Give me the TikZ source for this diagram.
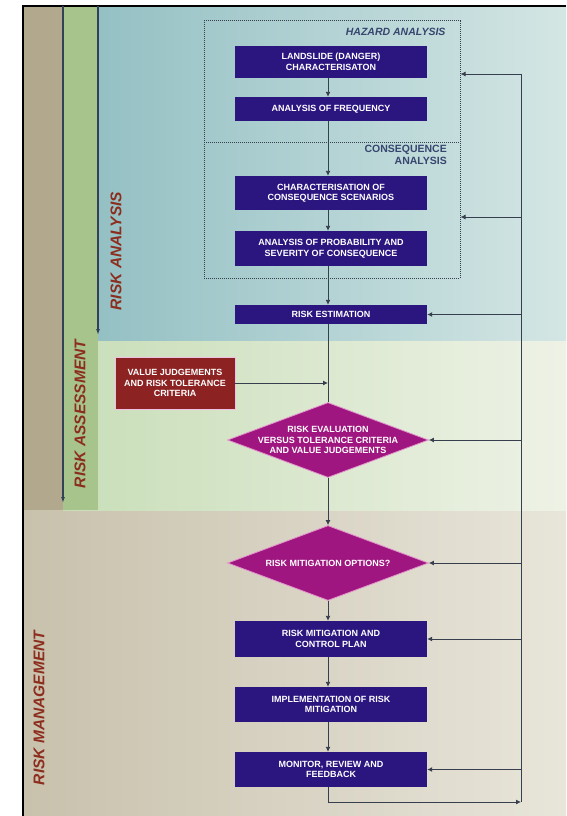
\documentclass[tikz,border=0pt]{standalone}
\usepackage{fontspec}
\setmainfont{Liberation Sans}
\usetikzlibrary{shapes.geometric,arrows.meta}

\definecolor{boxblue}{RGB}{43,22,128}
\definecolor{valred}{RGB}{140,34,34}
\definecolor{diamag}{RGB}{160,22,128}
\definecolor{diaedge}{RGB}{228,150,205}
\definecolor{linegrey}{RGB}{55,62,78}
\definecolor{bandline}{RGB}{50,65,85}
\definecolor{labred}{RGB}{140,45,30}
\definecolor{hazblue}{RGB}{55,70,110}
\definecolor{mgmtL}{RGB}{200,193,172}
\definecolor{mgmtR}{RGB}{232,229,218}
\definecolor{mgmtstrip}{RGB}{178,168,142}
\definecolor{assL}{RGB}{200,222,184}
\definecolor{assR}{RGB}{238,242,230}
\definecolor{assstrip}{RGB}{166,196,140}
\definecolor{anaL}{RGB}{148,192,196}
\definecolor{anaR}{RGB}{212,230,228}

\begin{document}
\begin{tikzpicture}[x=1pt,y=-1pt,
    stepbox/.style={rectangle, fill=boxblue, text=white, minimum width=192pt,
        align=center, inner sep=1pt, font=\fontsize{9}{10.5}\selectfont\bfseries},
    valbox/.style={rectangle, fill=valred, draw=diaedge!60, line width=0.6pt, text=white,
        minimum width=120pt, minimum height=52pt, align=center, inner sep=1pt,
        font=\fontsize{9}{10.5}\selectfont\bfseries},
    riskdiamond/.style={diamond, fill=diamag, draw=diaedge, line width=0.8pt,
        minimum width=201pt, minimum height=75pt, inner sep=0pt},
    dtext/.style={text=white, align=center, font=\fontsize{9}{10.5}\selectfont\bfseries},
    dotbox/.style={rectangle, draw=linegrey, densely dotted, line width=1pt},
    flow/.style={draw=linegrey, line width=0.9pt, -{Latex[length=5pt,width=5pt]}},
    link/.style={draw=linegrey, line width=0.9pt},
    band/.style={draw=bandline, line width=1.8pt, -{Latex[length=6pt,width=4pt]}},
    sidelab/.style={rotate=90, text=labred, font=\fontsize{15.5}{16}\selectfont\bfseries\itshape},
    boxlab/.style={text=hazblue, font=\fontsize{10.5}{11.5}\selectfont\bfseries},
    boxlabit/.style={boxlab, font=\fontsize{10.5}{11.5}\selectfont\bfseries\itshape}
]
\useasboundingbox (0,0) rectangle (566,816);

% Risk management band
\shade[left color=mgmtL, right color=mgmtR] (23,6) rectangle (566,816);
\fill[mgmtstrip] (23,6) rectangle (63,510);
% Risk assessment band
\shade[left color=assL, right color=assR] (63,6) rectangle (566,510);
\fill[assstrip] (63,6) rectangle (98,510);
% Risk analysis band
\shade[left color=anaL, right color=anaR] (98,6) rectangle (566,340);

% Frame
\draw[line width=2pt] (23,816) -- (23,6) -- (566,6);

% Band lines and labels
\draw[band] (63,6) -- (63,503);
\draw[band] (98,6) -- (98,335);
\node[sidelab] (lanalysis) at (116,251) {RISK ANALYSIS};
\node[sidelab] (lassess) at (80,414) {RISK ASSESSMENT};
\node[sidelab] (lmanage) at (39,708) {RISK MANAGEMENT};

% Hazard and consequence analysis
\node[dotbox, minimum width=256pt, minimum height=257pt] (hazbox) at (332,149.5) {};
\draw[linegrey, densely dotted, line width=1pt] (204,142) -- (460,142);
\node[boxlabit, anchor=east] (hazlab) at (449,32) {HAZARD ANALYSIS};
\node[boxlab, align=right, anchor=north east, inner sep=0pt] (conlab) at (447,145) {CONSEQUENCE\\ANALYSIS};

% Steps
\node[stepbox, minimum height=32pt] (lands) at (331,62) {LANDSLIDE (DANGER)\\CHARACTERISATON};
\node[stepbox, minimum height=24pt] (freq) at (331,109) {ANALYSIS OF FREQUENCY};
\node[stepbox, minimum height=34pt] (cscen) at (331,193) {CHARACTERISATION OF\\CONSEQUENCE SCENARIOS};
\node[stepbox, minimum height=35pt] (sev) at (331,248.5) {ANALYSIS OF PROBABILITY AND\\SEVERITY OF CONSEQUENCE};
\node[stepbox, minimum height=19pt] (est) at (331,314.5) {RISK ESTIMATION};
\node[valbox] (value) at (175,383) {VALUE JUDGEMENTS\\AND RISK TOLERANCE\\CRITERIA};
\node[riskdiamond, label={[dtext]center:RISK EVALUATION\\VERSUS TOLERANCE CRITERIA\\AND VALUE JUDGEMENTS}] (evalu) at (328,440) {};
\node[riskdiamond, label={[dtext]center:RISK MITIGATION OPTIONS?}] (mitopt) at (328,563) {};
\node[stepbox, minimum height=36pt] (plan) at (331,639) {RISK MITIGATION AND\\CONTROL PLAN};
\node[stepbox, minimum height=35pt] (impl) at (331,704.5) {IMPLEMENTATION OF RISK\\MITIGATION};
\node[stepbox, minimum height=35pt] (mon) at (331,769.5) {MONITOR, REVIEW AND\\FEEDBACK};

% Main flow
\coordinate (fx) at (328,0);
\draw[flow] (lands.south -| fx) -- (freq.north -| fx);
\draw[flow] (freq.south -| fx) -- (cscen.north -| fx);
\draw[flow] (cscen.south -| fx) -- (sev.north -| fx);
\draw[flow] (sev.south -| fx) -- (est.north -| fx);
\draw[link] (est.south -| fx) -- (evalu.north);
\draw[flow] (value.east) -- (value.east -| fx);
\draw[flow] (evalu.south) -- (mitopt.north);
\draw[flow] (mitopt.south) -- (plan.north -| fx);
\draw[flow] (plan.south -| fx) -- (impl.north -| fx);
\draw[flow] (impl.south -| fx) -- (mon.north -| fx);

% Feedback loop
\coordinate (fbtop) at (521,74);
\coordinate (fbbot) at (521,802);
\coordinate (fbhaz) at (521,217);
\draw[flow] (mon.south -| fx) |- (fbbot);
\draw[flow] (fbbot) -- (fbtop) -- (fbtop -| hazbox.east);
\draw[flow] (fbhaz) -- (fbhaz -| hazbox.east);
\foreach \n in {est,evalu,mitopt,plan,mon} {
    \draw[flow] (\n.east -| fbtop) -- (\n.east);
}
\end{tikzpicture}
\end{document}
